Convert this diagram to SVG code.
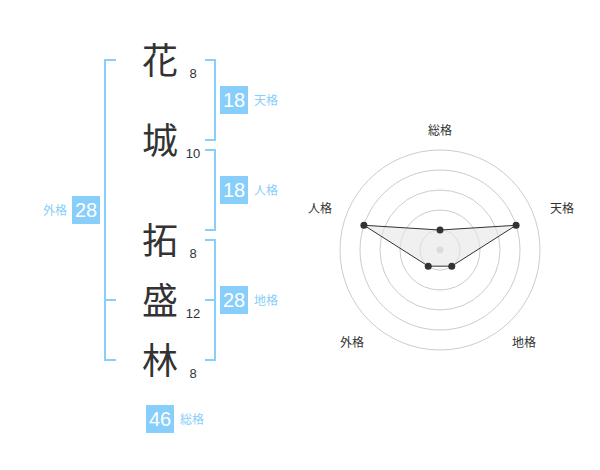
<svg xmlns="http://www.w3.org/2000/svg" width="600" height="470" viewBox="0 0 600 470">
<style>
.kanji{font-family:"Noto Sans CJK JP","Noto Sans CJK SC",sans-serif;font-size:36px;fill:#333;text-anchor:middle}
.num{font-family:"Liberation Sans",Arial,sans-serif;font-size:13px;fill:#333;text-anchor:middle}
.box{fill:#87cefa}
.boxt{font-family:"Liberation Sans",Arial,sans-serif;font-size:20px;fill:#fff;text-anchor:middle}
.lbl{font-family:"Noto Sans CJK JP","Noto Sans CJK SC",sans-serif;font-size:12px;fill:#87cefa}
.br{fill:none;stroke:#87cefa;stroke-width:2}
.ring{fill:none;stroke:#cccccc;stroke-width:1}
.axl{font-family:"Noto Sans CJK JP","Noto Sans CJK SC",sans-serif;font-size:12px;fill:#333;text-anchor:middle}
.pt{fill:#333}
</style>
<rect width="600" height="470" fill="#fff"/>
<g id="connectors">
<path class="br" d="M116,60 H105 V360 H116 M105,300 H116"/>
<path class="br" d="M205,60 H215 V140 H205"/>
<path class="br" d="M205,150 H215 V230 H205"/>
<path class="br" d="M205,240 H215 V360 H205 M215,300 H205"/>
</g>
<g id="char1"><text class="kanji" x="160" y="74">花</text><text class="num" x="193" y="78">8</text></g>
<g id="char2"><text class="kanji" x="160" y="154">城</text><text class="num" x="193" y="158">10</text></g>
<g id="char3"><text class="kanji" x="160" y="254">拓</text><text class="num" x="193" y="258">8</text></g>
<g id="char4"><text class="kanji" x="160" y="314">盛</text><text class="num" x="193" y="318">12</text></g>
<g id="char5"><text class="kanji" x="160" y="374">林</text><text class="num" x="193" y="378">8</text></g>
<g id="tenkaku"><rect class="box" x="220" y="86" width="28" height="28"/><text class="boxt" x="234" y="107">18</text><text class="lbl" x="254" y="105">天格</text></g>
<g id="jinkaku"><rect class="box" x="220" y="176" width="28" height="28"/><text class="boxt" x="234" y="197">18</text><text class="lbl" x="254" y="195">人格</text></g>
<g id="chikaku"><rect class="box" x="220" y="286" width="28" height="28"/><text class="boxt" x="234" y="307">28</text><text class="lbl" x="254" y="305">地格</text></g>
<g id="gaikaku"><rect class="box" x="72" y="196" width="28" height="28"/><text class="boxt" x="86" y="217">28</text><text class="lbl" x="67" y="215" text-anchor="end">外格</text></g>
<g id="soukaku"><rect class="box" x="146" y="405" width="28" height="28"/><text class="boxt" x="160" y="426">46</text><text class="lbl" x="180" y="424">総格</text></g>
<g id="radar">
<circle class="ring" cx="440" cy="250" r="20"/>
<circle class="ring" cx="440" cy="250" r="40"/>
<circle class="ring" cx="440" cy="250" r="60"/>
<circle class="ring" cx="440" cy="250" r="80"/>
<circle class="ring" cx="440" cy="250" r="100"/>
<circle cx="440" cy="250" r="3.5" fill="#cccccc"/>
<polygon points="440,230 516.08,225.28 451.76,266.18 428.24,266.18 363.92,225.28" fill="#e6e6e6" fill-opacity="0.6" stroke="#333" stroke-width="1"/>
<circle class="pt" cx="440" cy="230" r="3.5"/>
<circle class="pt" cx="516.08" cy="225.28" r="3.5"/>
<circle class="pt" cx="451.76" cy="266.18" r="3.5"/>
<circle class="pt" cx="428.24" cy="266.18" r="3.5"/>
<circle class="pt" cx="363.92" cy="225.28" r="3.5"/>
<text class="axl" x="440" y="134.5">総格</text>
<text class="axl" x="562" y="212.5">天格</text>
<text class="axl" x="524" y="346.5">地格</text>
<text class="axl" x="352" y="346.5">外格</text>
<text class="axl" x="320" y="212.5">人格</text>
</g>
</svg>
